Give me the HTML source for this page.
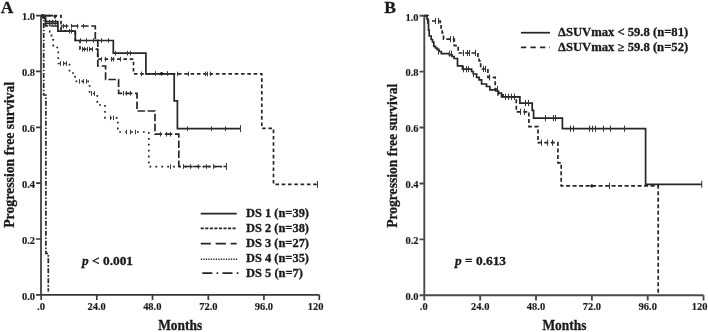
<!DOCTYPE html>
<html><head><meta charset="utf-8">
<style>
html,body{margin:0;padding:0;background:#fff;width:708px;height:332px;overflow:hidden}
svg{display:block;will-change:transform}
text{font-family:"Liberation Serif",serif;font-weight:bold;fill:#1a1a1a;stroke:#1a1a1a;stroke-width:0.3px}
.ax{stroke:#383838;stroke-width:1.7;fill:none}
.axb{stroke:#4a4a4a;stroke-width:1.9;fill:none}
.c{fill:none;stroke:#262626;stroke-width:1.7}
.t{fill:none;stroke:#333;stroke-width:1}
.tl{font-size:10.5px}
.tl text{stroke-width:0.15px}
</style></head>
<body>
<svg width="708" height="332" viewBox="0 0 708 332">
<!-- ============ PANEL A ============ -->
<text x="0.8" y="13" style="font-size:17.5px">A</text>
<!-- axes -->
<path class="ax" d="M41,15.6 V294.8 H319.3 M36,15.6 H41 M36,71.4 H41 M36,127.3 H41 M36,183.1 H41 M36,239 H41 M36,294.8 H41 M41.2,294.8 V300 M96.8,294.8 V300 M152.5,294.8 V300 M208.3,294.8 V300 M263.9,294.8 V300 M319.3,294.8 V300"/>
<g class="tl" text-anchor="end">
<text transform="translate(35,20.4) scale(1,1.07)">1.0</text>
<text transform="translate(35,76.2) scale(1,1.07)">0.8</text>
<text transform="translate(35,132.1) scale(1,1.07)">0.6</text>
<text transform="translate(35,187.9) scale(1,1.07)">0.4</text>
<text transform="translate(35,243.8) scale(1,1.07)">0.2</text>
<text transform="translate(35,299.6) scale(1,1.07)">0.0</text>
</g>
<g class="tl" text-anchor="middle">
<text transform="translate(41,310) scale(1,1.07)">.0</text>
<text transform="translate(96.6,310) scale(1,1.07)">24.0</text>
<text transform="translate(152.3,310) scale(1,1.07)">48.0</text>
<text transform="translate(208.4,310) scale(1,1.07)">72.0</text>
<text transform="translate(263.9,310) scale(1,1.07)">96.0</text>
<text transform="translate(315.5,310) scale(1,1.07)">120</text>
</g>
<text x="180.2" y="329.7" text-anchor="middle" style="font-size:14.6px" textLength="44" lengthAdjust="spacingAndGlyphs">Months</text>
<text transform="translate(14.3,227.8) rotate(-90)" style="font-size:14px" textLength="146" lengthAdjust="spacingAndGlyphs">Progression free survival</text>

<!-- curves A -->
<!-- DS1 solid -->
<path class="c" d="M41,15.6 H43 V18 H45.5 V21.5 H57.9 V31.2 H75.3 V40.5 H113.3 V53.2 H145.9 V73.8 H174.2 V100.8 H177.4 V128.7 H240.3"/>
<!-- DS2 short dash -->
<path class="c" stroke-dasharray="3.6,2.7" d="M41,15.6 H61 V31.2 H75.3 V40.5 H80 V49.2 H97.7 V59.2 H133.5 V73.9 H261.8 V128.4 H273.5 V184.4 H317.3"/>
<!-- DS3 long dash -->
<path class="c" stroke-dasharray="7.5,2.6" d="M41,15.6 H45.5 V26 H95.3 V38.5 H97.8 V66 H105.6 V79.5 H118.6 V93.3 H137 V111 H155 V134.2 H178.8 V166.5 H226.5"/>
<!-- DS4 dotted -->
<path class="c" stroke-dasharray="1.8,4.1" d="M41,15.6 H45 V23.8 H49.8 V31.8 H51.5 V39.8 H53.3 V47.5 H58.3 V63.5 H69.5 V73 H75 V81.4 H89.6 V93.5 H97.3 V105 H105 V117.8 H117.8 V132 H148.8 V166.7 H226.5"/>
<!-- DS5 dash-dot -->
<path class="c" style="stroke-width:1.7" stroke-dasharray="5,1.8,1.6,1.6" d="M41,15.6 H43.7 V95 H45.9 V253.5 H48.3 V291.5"/>
<!-- censor ticks A -->
<path class="t" style="stroke:#3a3a3a" d="M101.5,38.2 V42.8 M108.5,38.2 V42.8 M115.5,50.9 V55.5 M69.5,28.9 V33.5 M71.5,28.9 V33.5 M80.5,38.2 V42.8 M86.5,38.2 V42.8 M93.5,38.2 V42.8 M127.5,50.9 V55.5 M130.5,50.9 V55.5 M155.5,71.2 V75.8 M167.5,71.2 V75.8 M187.5,126.4 V131.0 M211.5,126.4 V131.0 M225.5,126.4 V131.0 M63.5,23.9 V28.5 M66.5,23.9 V28.5 M71.5,23.9 V28.5 M77.5,23.9 V28.5 M83.5,23.9 V28.5 M82.5,46.9 V51.5 M84.5,46.9 V51.5 M87.5,46.9 V51.5 M89.5,46.9 V51.5 M92.5,46.9 V51.5 M101.5,56.9 V61.5 M105.5,56.9 V61.5 M111.5,56.9 V61.5 M113.5,56.9 V61.5 M120.5,56.9 V61.5 M141.5,71.6 V76.2 M177.5,71.6 V76.2 M188.5,71.6 V76.2 M205.5,71.6 V76.2 M207.5,71.6 V76.2 M210.5,71.6 V76.2 M123.5,91.0 V95.6 M126.5,91.0 V95.6 M130.5,91.0 V95.6 M160.5,131.9 V136.5 M166.5,131.9 V136.5 M170.5,131.9 V136.5 M183.5,164.2 V168.8 M190.5,164.2 V168.8 M198.5,164.2 V168.8 M206.5,164.2 V168.8 M213.5,164.2 V168.8 M60.5,61.2 V65.8 M63.5,61.2 V65.8 M66.5,61.2 V65.8 M79.5,79.1 V83.7 M83.5,79.1 V83.7 M86.5,79.1 V83.7 M91.5,91.2 V95.8 M94.5,91.2 V95.8 M110.5,115.5 V120.1 M113.5,115.5 V120.1 M126.5,129.7 V134.3 M130.5,129.7 V134.3 M135.5,129.7 V134.3 M170.5,164.4 V169.0 M240.5,125.2 V132.2 M317.5,180.9 V187.9 M226.5,163.0 V170.0"/>
<circle cx="161.6" cy="73.8" r="1.8" fill="#1e1e1e"/>
<path class="c" d="M41,15.6 H53 M54,15.6 L55,17.5 L56.5,15.6 M46,23.3 H57.5" stroke-width="1.6"/>
<path class="t" d="M49.5,19.8 V24.8 M52.5,19.8 V24.8 M55.5,19.8 V24.8 M44,17 L47,21"/>

<!-- legend A -->
<path class="c" d="M200.7,213.7 H236.7"/>
<path class="c" stroke-dasharray="3.1,1.45" d="M200.7,228.3 H236.7"/>
<path class="c" stroke-dasharray="10.2,4.8" d="M200.7,243.6 H236.7"/>
<path class="c" style="stroke-width:1.5" stroke-dasharray="1.3,1.2" d="M200.8,259.2 H238"/>
<path class="c" stroke-dasharray="10,4.3,1.6,4.3" d="M202.3,273.1 H238.5"/>
<g style="font-size:11.5px">
<text x="246" y="217" textLength="63" lengthAdjust="spacingAndGlyphs">DS 1 (n=39)</text>
<text x="246" y="232" textLength="63" lengthAdjust="spacingAndGlyphs">DS 2 (n=38)</text>
<text x="246" y="247" textLength="63" lengthAdjust="spacingAndGlyphs">DS 3 (n=27)</text>
<text x="246" y="262.3" textLength="63" lengthAdjust="spacingAndGlyphs">DS 4 (n=35)</text>
<text x="246" y="277.2" textLength="57" lengthAdjust="spacingAndGlyphs">DS 5 (n=7)</text>
</g>
<text x="82" y="264.8" style="font-size:12px" textLength="51" lengthAdjust="spacingAndGlyphs"><tspan font-style="italic">p</tspan> &lt; 0.001</text>

<!-- ============ PANEL B ============ -->
<text x="384.3" y="13" style="font-size:17.5px">B</text>
<path class="axb" d="M424.3,15.7 V295.3 H703.5 M419.5,15.7 H424.3 M419.5,71.6 H424.3 M419.5,127.5 H424.3 M419.5,183.5 H424.3 M419.5,239.4 H424.3 M419.5,295.3 H424.3 M424.3,295.3 V300.5 M480.2,295.3 V300.5 M536,295.3 V300.5 M591.9,295.3 V300.5 M647.7,295.3 V300.5 M703.5,295.3 V300.5"/>
<g class="tl" text-anchor="end">
<text transform="translate(418.5,20.5) scale(1,1.07)">1.0</text>
<text transform="translate(418.5,76.4) scale(1,1.07)">0.8</text>
<text transform="translate(418.5,132.3) scale(1,1.07)">0.6</text>
<text transform="translate(418.5,188.3) scale(1,1.07)">0.4</text>
<text transform="translate(418.5,244.2) scale(1,1.07)">0.2</text>
<text transform="translate(418.5,300.1) scale(1,1.07)">0.0</text>
</g>
<g class="tl" text-anchor="middle">
<text transform="translate(423.8,310) scale(1,1.07)">.0</text>
<text transform="translate(480.2,310) scale(1,1.07)">24.0</text>
<text transform="translate(536,310) scale(1,1.07)">48.0</text>
<text transform="translate(591.9,310) scale(1,1.07)">72.0</text>
<text transform="translate(647.7,310) scale(1,1.07)">96.0</text>
<text transform="translate(699.5,310) scale(1,1.07)">120</text>
</g>
<text x="564.4" y="329.7" text-anchor="middle" style="font-size:14.6px" textLength="44" lengthAdjust="spacingAndGlyphs">Months</text>
<text transform="translate(396.8,227.8) rotate(-90)" style="font-size:14px" textLength="144" lengthAdjust="spacingAndGlyphs">Progression free survival</text>

<!-- curves B -->
<path class="c" d="M424.3,15.7 H427 V19 H427.8 V23 H428.5 V30 H429.2 V36 H431.2 V39.5 H432.5 V42 H433.8 V46.3 H435.5 V48 H437.2 V49.6 H439 V51.5 H441.3 V53.7 H449.4 V54.8 H452.1 V56.5 H454.1 V58.5 H457.5 V65.9 H462.5 V69.2 H471.6 V71.5 H473.3 V74 H476.6 V77.3 H479.1 V79.8 H481.6 V84 H486.5 V86.5 H489.9 V89.8 H495.7 V91 H498.5 V93.1 H501.5 V96.8 H519.9 V103.1 H532.2 V110.3 H533.6 V118.1 H562.4 V128.7 H645.6 V184.3 H701.8"/>
<path class="c" stroke-dasharray="4,2.5" d="M424.3,15.7 H428 V21 H440.3 V24 H441.1 V28 H442.2 V33 H443.5 V39.2 H454.3 V45.6 H458.2 V53 H477.9 V57.4 H479.1 V60.8 H480.7 V69 H487.9 V77.3 H495.2 V89 H498.1 V94.8 H503.1 V96.8 H516.3 V111.8 H528.9 V126.6 H538 V142.7 H557.9 V162.8 H561.2 V185.9 H658.2 V295.3"/>
<!-- censor ticks B -->
<path class="t" d="M435.5,17.9 V24.1 M438.5,17.9 V24.1 M450.5,36.1 V42.3 M453.5,36.1 V42.3 M463.5,49.9 V56.1 M467.5,49.9 V56.1 M469.5,49.9 V56.1 M475.5,49.9 V56.1 M483.5,65.9 V72.1 M485.5,65.9 V72.1 M489.5,74.2 V80.4 M497.5,85.9 V92.1 M520.5,108.7 V114.9 M524.5,108.7 V114.9 M541.5,139.6 V145.8 M547.5,139.6 V145.8 M552.5,139.6 V145.8 M609.5,182.8 V189.0 M438.5,48.4 V54.6 M449.5,50.6 V56.8 M451.5,50.6 V56.8 M463.5,66.1 V72.3 M466.5,66.1 V72.3 M468.5,66.1 V72.3 M473.5,70.9 V77.1 M505.5,93.7 V99.9 M508.5,93.7 V99.9 M511.5,93.7 V99.9 M514.5,93.7 V99.9 M525.5,100.0 V106.2 M528.5,100.0 V106.2 M545.5,115.0 V121.2 M553.5,115.0 V121.2 M555.5,115.0 V121.2 M570.5,125.6 V131.8 M573.5,125.6 V131.8 M589.5,125.6 V131.8 M592.5,125.6 V131.8 M595.5,125.6 V131.8 M603.5,125.6 V131.8 M610.5,125.6 V131.8 M624.5,125.6 V131.8 M701.8,180.8 V187.8"/>
<circle cx="591.8" cy="185.9" r="1.6" fill="#1e1e1e"/>

<!-- legend B -->
<path class="c" d="M520.9,32.7 H550"/>
<path class="c" stroke-dasharray="5.4,4.1" d="M520.9,47.4 H550"/>
<g style="font-size:11.5px">
<text x="558" y="36.3" textLength="130.2" lengthAdjust="spacingAndGlyphs">&#916;SUVmax &lt; 59.8 (n=81)</text>
<text x="558" y="51.1" textLength="130.2" lengthAdjust="spacingAndGlyphs">&#916;SUVmax &#8805; 59.8 (n=52)</text>
</g>
<text x="455" y="264.8" style="font-size:12px" textLength="51" lengthAdjust="spacingAndGlyphs"><tspan font-style="italic">p</tspan> = 0.613</text>
</svg>
</body></html>
